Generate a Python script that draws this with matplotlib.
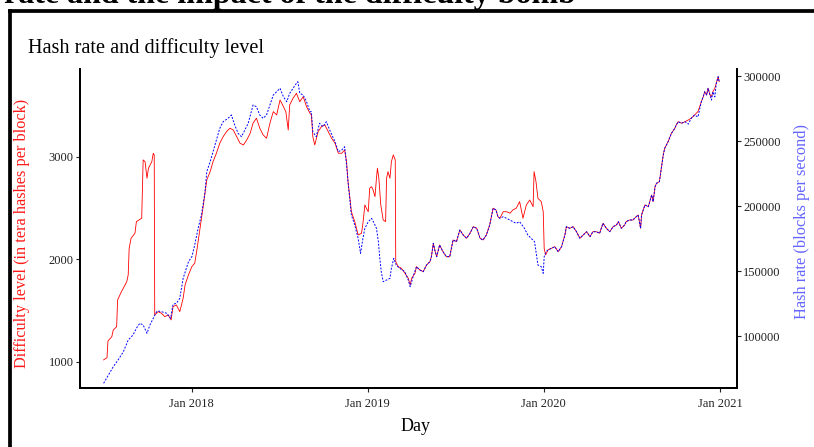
import pandas as pd
import matplotlib
matplotlib.use("Agg")
import matplotlib.pyplot as plt
import matplotlib.dates as mdates
from matplotlib.lines import Line2D

plt.rcParams['font.family'] = ['Liberation Serif', 'DejaVu Serif']

# difficulty level (tera hashes per block)
diff_2017 = [
    ("2017-07-02", 1020), ("2017-07-09", 1042), ("2017-07-11", 1205), ("2017-07-19", 1247),
    ("2017-07-22", 1312), ("2017-07-29", 1344), ("2017-07-31", 1605), ("2017-08-08", 1686),
    ("2017-08-19", 1783), ("2017-08-22", 1849), ("2017-08-24", 2109), ("2017-08-28", 2207),
    ("2017-09-05", 2256), ("2017-09-08", 2369), ("2017-09-19", 2402), ("2017-09-22", 2971),
    ("2017-09-26", 2954), ("2017-09-30", 2792), ("2017-10-03", 2890), ("2017-10-10", 2954),
    ("2017-10-13", 3036), ("2017-10-15", 3020), ("2017-10-16", 1459), ("2017-10-23", 1491),
    ("2017-10-30", 1475), ("2017-11-06", 1442), ("2017-11-13", 1459), ("2017-11-19", 1410),
    ("2017-11-23", 1540), ("2017-11-30", 1556), ("2017-12-07", 1491), ("2017-12-14", 1622),
    ("2017-12-18", 1751), ("2017-12-25", 1849),
]
diff_2018 = [
    ("2018-01-01", 1930), ("2018-01-07", 1963), ("2018-01-11", 2076), ("2018-01-18", 2304),
    ("2018-01-25", 2532), ("2018-02-01", 2776), ("2018-02-08", 2857), ("2018-02-14", 2954),
    ("2018-02-21", 3036), ("2018-02-28", 3134), ("2018-03-07", 3198), ("2018-03-14", 3247),
    ("2018-03-21", 3280), ("2018-03-28", 3263), ("2018-04-04", 3198), ("2018-04-11", 3134),
    ("2018-04-18", 3117), ("2018-04-25", 3166), ("2018-05-02", 3231), ("2018-05-08", 3329),
    ("2018-05-15", 3378), ("2018-05-22", 3280), ("2018-05-29", 3215), ("2018-06-05", 3182),
    ("2018-06-12", 3329), ("2018-06-19", 3442), ("2018-06-26", 3410), ("2018-07-03", 3556),
    ("2018-07-10", 3491), ("2018-07-15", 3442), ("2018-07-20", 3263), ("2018-07-23", 3507),
    ("2018-07-30", 3573), ("2018-08-06", 3621), ("2018-08-13", 3539), ("2018-08-20", 3588),
    ("2018-08-27", 3491), ("2018-09-03", 3426), ("2018-09-06", 3410), ("2018-09-09", 3198),
    ("2018-09-13", 3117), ("2018-09-20", 3247), ("2018-09-27", 3296), ("2018-10-04", 3312),
    ("2018-10-11", 3247), ("2018-10-18", 3182), ("2018-10-25", 3134), ("2018-11-01", 3036),
    ("2018-11-08", 3036), ("2018-11-14", 3068), ("2018-11-18", 2954), ("2018-11-21", 2759),
    ("2018-11-25", 2597), ("2018-11-28", 2466), ("2018-12-05", 2369), ("2018-12-12", 2239),
    ("2018-12-19", 2256), ("2018-12-22", 2353), ("2018-12-26", 2532), ("2018-12-29", 2500),
]
diff_2019 = [
    ("2019-01-02", 2466), ("2019-01-05", 2695), ("2019-01-09", 2710), ("2019-01-12", 2678),
    ("2019-01-16", 2613), ("2019-01-19", 2792), ("2019-01-21", 2890), ("2019-01-24", 2792),
    ("2019-01-28", 2532), ("2019-02-02", 2385), ("2019-02-07", 2369), ("2019-02-09", 2792),
    ("2019-02-12", 2857), ("2019-02-16", 2792), ("2019-02-19", 2954), ("2019-02-23", 3020),
    ("2019-02-27", 2971), ("2019-02-28", 1979), ("2019-03-05", 1930), ("2019-03-12", 1914),
    ("2019-03-19", 1865), ("2019-03-26", 1817), ("2019-03-30", 1751), ("2019-04-02", 1817),
    ("2019-04-09", 1865), ("2019-04-12", 1930), ("2019-04-19", 1898), ("2019-04-26", 1881),
    ("2019-05-03", 1946), ("2019-05-10", 1979), ("2019-05-13", 2027), ("2019-05-17", 2158),
    ("2019-05-20", 2093), ("2019-05-24", 2027), ("2019-05-30", 2141), ("2019-06-06", 2076),
    ("2019-06-13", 2027), ("2019-06-20", 2027), ("2019-06-27", 2190), ("2019-07-04", 2174),
    ("2019-07-11", 2288), ("2019-07-18", 2239), ("2019-07-25", 2207), ("2019-08-01", 2256),
    ("2019-08-08", 2320), ("2019-08-15", 2304), ("2019-08-22", 2207), ("2019-08-28", 2190),
    ("2019-09-04", 2239), ("2019-09-11", 2337), ("2019-09-18", 2500), ("2019-09-24", 2483),
    ("2019-09-28", 2418), ("2019-10-02", 2402), ("2019-10-09", 2466), ("2019-10-16", 2466),
    ("2019-10-23", 2451), ("2019-10-29", 2483), ("2019-11-05", 2500), ("2019-11-12", 2564),
    ("2019-11-19", 2402), ("2019-11-26", 2532), ("2019-12-03", 2580), ("2019-12-10", 2515),
    ("2019-12-12", 2857), ("2019-12-16", 2759), ("2019-12-20", 2597), ("2019-12-27", 2564),
    ("2019-12-31", 2466),
]
diff_2020 = [
    ("2020-01-02", 2106), ("2020-01-05", 2044), ("2020-01-10", 2093), ("2020-01-17", 2109),
    ("2020-01-24", 2125), ("2020-01-31", 2076), ("2020-02-07", 2125), ("2020-02-14", 2239),
    ("2020-02-17", 2320), ("2020-02-24", 2304), ("2020-03-02", 2320), ("2020-03-09", 2271),
    ("2020-03-16", 2207), ("2020-03-23", 2239), ("2020-03-30", 2271), ("2020-04-06", 2222),
    ("2020-04-12", 2271), ("2020-04-19", 2271), ("2020-04-26", 2256), ("2020-05-03", 2353),
    ("2020-05-10", 2304), ("2020-05-17", 2271), ("2020-05-24", 2320), ("2020-05-31", 2337),
    ("2020-06-04", 2369), ("2020-06-10", 2304), ("2020-06-17", 2337), ("2020-06-20", 2369),
    ("2020-06-27", 2385), ("2020-07-04", 2385), ("2020-07-11", 2418), ("2020-07-15", 2434),
    ("2020-07-20", 2304), ("2020-07-22", 2434), ("2020-07-29", 2532), ("2020-08-05", 2515),
    ("2020-08-12", 2629), ("2020-08-15", 2564), ("2020-08-19", 2710), ("2020-08-22", 2743),
    ("2020-08-28", 2759), ("2020-09-01", 2890), ("2020-09-05", 3020), ("2020-09-08", 3085),
    ("2020-09-15", 3149), ("2020-09-22", 3231), ("2020-09-29", 3280), ("2020-10-02", 3312),
    ("2020-10-06", 3344), ("2020-10-13", 3329), ("2020-10-20", 3344), ("2020-10-27", 3361),
    ("2020-11-02", 3378), ("2020-11-09", 3410), ("2020-11-16", 3442), ("2020-11-23", 3539),
    ("2020-11-27", 3588), ("2020-11-30", 3637), ("2020-12-04", 3605), ("2020-12-07", 3670),
    ("2020-12-11", 3605), ("2020-12-14", 3588), ("2020-12-17", 3637), ("2020-12-21", 3670),
    ("2020-12-24", 3719), ("2020-12-28", 3784), ("2020-12-30", 3735),
]

# hash rate (blocks per second)
hash_2017 = [
    ("2017-07-02", 63600), ("2017-07-12", 70000), ("2017-07-22", 76390), ("2017-08-01", 81550),
    ("2017-08-12", 87930), ("2017-08-22", 96930), ("2017-09-01", 100770), ("2017-09-08", 105930),
    ("2017-09-15", 109770), ("2017-09-22", 108470), ("2017-09-30", 102090), ("2017-10-06", 108470),
    ("2017-10-13", 113620), ("2017-10-20", 118700), ("2017-10-23", 119240), ("2017-10-30", 118700),
    ("2017-11-10", 117470), ("2017-11-18", 113500), ("2017-11-23", 124390), ("2017-11-30", 125160),
    ("2017-12-07", 129000), ("2017-12-14", 144390), ("2017-12-25", 157160),
]
hash_2018 = [
    ("2018-01-01", 161000), ("2018-01-07", 170000), ("2018-01-14", 182850), ("2018-01-21", 193080),
    ("2018-01-28", 209770), ("2018-02-01", 226390), ("2018-02-08", 234080), ("2018-02-14", 241770),
    ("2018-02-21", 250770), ("2018-02-28", 259770), ("2018-03-07", 264850), ("2018-03-17", 267460),
    ("2018-03-24", 270000), ("2018-03-31", 262310), ("2018-04-07", 255920), ("2018-04-14", 253310),
    ("2018-04-21", 258460), ("2018-04-28", 263620), ("2018-05-08", 277690), ("2018-05-15", 276390),
    ("2018-05-22", 270000), ("2018-05-29", 267460), ("2018-06-05", 270000), ("2018-06-12", 277690),
    ("2018-06-19", 285380), ("2018-06-26", 287920), ("2018-07-03", 290540), ("2018-07-10", 284080),
    ("2018-07-17", 280230), ("2018-07-23", 286690), ("2018-07-30", 290540), ("2018-08-06", 294380),
    ("2018-08-09", 295620), ("2018-08-13", 286690), ("2018-08-20", 285380), ("2018-08-27", 280230),
    ("2018-09-03", 272540), ("2018-09-06", 272540), ("2018-09-09", 257150), ("2018-09-16", 253310),
    ("2018-09-23", 263620), ("2018-09-30", 261000), ("2018-10-07", 264850), ("2018-10-14", 258460),
    ("2018-10-25", 249460), ("2018-11-01", 241770), ("2018-11-08", 243080), ("2018-11-14", 245620),
    ("2018-11-18", 231540), ("2018-11-21", 218700), ("2018-11-28", 193080), ("2018-12-05", 185390),
    ("2018-12-12", 175160), ("2018-12-17", 163620), ("2018-12-22", 175160), ("2018-12-26", 182850),
]
hash_2019 = [
    ("2019-01-02", 187920), ("2019-01-09", 190540), ("2019-01-16", 185390), ("2019-01-19", 182850),
    ("2019-01-23", 172540), ("2019-01-26", 159770), ("2019-01-29", 149460), ("2019-02-02", 141770),
    ("2019-02-09", 143080), ("2019-02-16", 144390), ("2019-02-19", 152080), ("2019-02-24", 159770),
    ("2019-03-01", 154620), ("2019-03-08", 152080), ("2019-03-19", 149460), ("2019-03-26", 143080),
    ("2019-03-30", 137930), ("2019-04-05", 145620), ("2019-04-12", 153310), ("2019-04-19", 150770),
    ("2019-04-26", 149460), ("2019-05-03", 154620), ("2019-05-10", 157160), ("2019-05-13", 161000),
    ("2019-05-17", 171310), ("2019-05-20", 166160), ("2019-05-24", 161000), ("2019-05-30", 170000),
    ("2019-06-06", 164850), ("2019-06-13", 161000), ("2019-06-20", 161000), ("2019-06-27", 173850),
    ("2019-07-04", 172540), ("2019-07-11", 181540), ("2019-07-18", 177690), ("2019-07-25", 175160),
    ("2019-08-01", 179000), ("2019-08-08", 184080), ("2019-08-15", 182850), ("2019-08-22", 175160),
    ("2019-08-28", 173850), ("2019-09-04", 177690), ("2019-09-11", 185390), ("2019-09-18", 198230),
    ("2019-09-24", 196930), ("2019-09-28", 191770), ("2019-10-02", 190540), ("2019-10-09", 191770),
    ("2019-10-16", 190540), ("2019-10-23", 189230), ("2019-10-29", 187920), ("2019-11-05", 186700),
    ("2019-11-12", 187920), ("2019-11-22", 182850), ("2019-11-29", 177690), ("2019-12-06", 175160),
    ("2019-12-13", 172540), ("2019-12-16", 164850), ("2019-12-20", 154620), ("2019-12-27", 153310),
    ("2019-12-31", 148230),
]
hash_2020 = [
    ("2020-01-02", 161000), ("2020-01-06", 164850), ("2020-01-10", 166160), ("2020-01-17", 167460),
    ("2020-01-24", 168700), ("2020-01-31", 164850), ("2020-02-07", 168700), ("2020-02-14", 177690),
    ("2020-02-17", 184080), ("2020-02-24", 182850), ("2020-03-02", 184080), ("2020-03-09", 180230),
    ("2020-03-16", 175160), ("2020-03-23", 177690), ("2020-03-30", 180230), ("2020-04-06", 176390),
    ("2020-04-12", 180230), ("2020-04-19", 180230), ("2020-04-26", 179000), ("2020-05-03", 186700),
    ("2020-05-10", 182850), ("2020-05-17", 180230), ("2020-05-24", 184080), ("2020-05-31", 185390),
    ("2020-06-04", 187920), ("2020-06-10", 182850), ("2020-06-17", 185390), ("2020-06-20", 187920),
    ("2020-06-27", 189230), ("2020-07-04", 189230), ("2020-07-11", 191770), ("2020-07-15", 193080),
    ("2020-07-20", 182850), ("2020-07-22", 193080), ("2020-07-29", 200770), ("2020-08-05", 199460),
    ("2020-08-12", 208460), ("2020-08-15", 203310), ("2020-08-19", 214850), ("2020-08-22", 217460),
    ("2020-08-28", 218700), ("2020-09-01", 229000), ("2020-09-05", 239230), ("2020-09-08", 244380),
    ("2020-09-15", 249460), ("2020-09-22", 255920), ("2020-09-29", 259770), ("2020-10-02", 262310),
    ("2020-10-06", 264850), ("2020-10-13", 263620), ("2020-10-20", 264850), ("2020-10-27", 263000),
    ("2020-11-02", 267460), ("2020-11-09", 270000), ("2020-11-16", 268500), ("2020-11-23", 280230),
    ("2020-11-27", 284080), ("2020-11-30", 287920), ("2020-12-04", 285380), ("2020-12-07", 290540),
    ("2020-12-11", 285380), ("2020-12-14", 281500), ("2020-12-17", 287920), ("2020-12-21", 284000),
    ("2020-12-24", 294380), ("2020-12-28", 299460), ("2020-12-30", 295620),
]

diff = pd.DataFrame(diff_2017 + diff_2018 + diff_2019 + diff_2020, columns=["day", "difficulty"])
hashrate = pd.DataFrame(hash_2017 + hash_2018 + hash_2019 + hash_2020, columns=["day", "hashrate"])
diff["day"] = pd.to_datetime(diff["day"])
hashrate["day"] = pd.to_datetime(hashrate["day"])

x_ticks = ["2018-01-01", "2019-01-01", "2020-01-01", "2021-01-01"]
left_ticks = [1000, 2000, 3000]
right_ticks = [100000, 150000, 200000, 250000, 300000]

fig = plt.figure(figsize=(8.14, 4.47), dpi=100)
ax = fig.add_axes([80 / 814, 1 - 388 / 447, 657 / 814, 319 / 447])
ax2 = ax.twinx()

ax.plot(diff["day"], diff["difficulty"], color="#ff0000", lw=0.6)
ax2.plot(hashrate["day"], hashrate["hashrate"], color="#0000ff", lw=0.7, ls=(0, (2, 1.5)))

ax.set_xlim(pd.Timestamp("2017-05-14"), pd.Timestamp("2021-02-05"))
ax.set_ylim(746, 3858)
ax2.set_ylim(60000, 305400)

ax.set_xticks(pd.to_datetime(x_ticks))
ax.xaxis.set_major_formatter(mdates.DateFormatter("%b %Y"))
ax.set_yticks(left_ticks)
ax2.set_yticks(right_ticks)

for a in (ax, ax2):
    a.spines["top"].set_visible(False)
    for s in a.spines.values():
        s.set_linewidth(1.4)
    a.tick_params(labelsize=9, length=3, width=0.8, pad=1.5, colors="#222222")
ax.tick_params(axis="x", pad=4)

ax.set_xlabel("Day", fontsize=13)
ax.xaxis.set_label_coords(0.51, -0.095)
ax.set_ylabel("Difficulty level (in tera hashes per block)", color="#ff1a1a", fontsize=11.7)
ax.yaxis.set_label_coords(-0.076, 0.483)
ax2.set_ylabel("Hash rate (blocks per second)", color="#6464ff", fontsize=11.8)
ax2.yaxis.set_label_coords(1.087, 0.522)

fig.text(28 / 814, 1 - 53 / 447, "Hash rate and difficulty level", fontsize=14.6, va="baseline")
fig.text(4 / 814, 1 - 3.5 / 447, "rate and the impact of the difficulty bomb",
         fontsize=23, fontweight="bold", va="baseline")

# frame around the chart
fig.add_artist(Line2D([9.5 / 814, 9.5 / 814], [0, 1 - 11 / 447], color="black", lw=2.7,
                      transform=fig.transFigure, solid_capstyle="projecting"))
fig.add_artist(Line2D([9.5 / 814, 1], [1 - 11 / 447, 1 - 11 / 447], color="black", lw=2.7,
                      transform=fig.transFigure, solid_capstyle="projecting"))

fig.savefig("out.png", dpi=100)
